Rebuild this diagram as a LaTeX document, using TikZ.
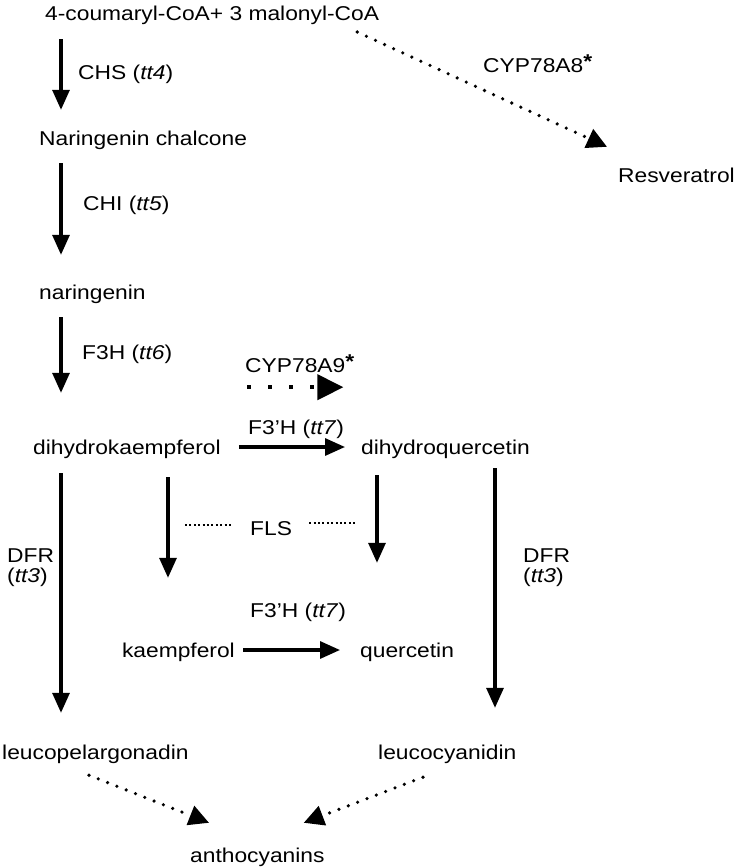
\documentclass[tikz,border=0pt]{standalone}
\usepackage{fontspec}
\setmainfont{Liberation Sans}[FakeStretch=1.14]
\usetikzlibrary{arrows.meta}
\begin{document}
\begin{tikzpicture}[x=1pt,y=-1pt,
  lbl/.style={inner sep=0pt, anchor=base west, text height=15pt, text depth=5pt, font=\fontsize{20}{20}\selectfont},
  arr/.style={line width=3.2pt, -{Triangle[width=17pt,length=20pt]}},
  dotarr/.style={line width=3.6pt, line cap=round, dash pattern=on 0pt off 10pt, -{Triangle[width=20pt,length=20pt]}},
  bigdot/.style={line width=4pt, dash pattern=on 4pt off 17pt, -{Triangle[width=25pt,length=26pt]}},
  fine/.style={line width=2.6pt, dash pattern=on 2pt off 2.4pt}]
\fill[white] (0,0) rectangle (737,868);
\useasboundingbox (0,0) rectangle (737,868);
% columns
\coordinate (cA) at (61,0);
\coordinate (cB) at (168,0);
\coordinate (cC) at (377,0);
\coordinate (cD) at (495,0);
% compounds
\node[lbl] (title) at (45,20) {4-coumaryl-CoA+ 3 malonyl-CoA};
\node[lbl] (nc) at (39,145) {Naringenin chalcone};
\node[lbl] (nar) at (39,299) {naringenin};
\node[lbl] (dhk) at (33,454) {dihydrokaempferol};
\node[lbl] (dhq) at (361,454) {dihydroquercetin};
\node[lbl,anchor=base east] (kae) at (235,657) {kaempferol};
\node[lbl] (que) at (360,657) {quercetin};
\node[lbl] (lpg) at (2,759) {leucopelargonadin};
\node[lbl] (lcy) at (378,759) {leucocyanidin};
\node[lbl] (ant) at (190,862) {anthocyanins};
\node[lbl] (res) at (618,182) {Resveratrol};
% enzyme labels
\node[lbl] (chs) at (78,79) {CHS (\textit{tt4})};
\node[lbl] (chi) at (83,210) {CHI (\textit{tt5})};
\node[lbl] (f3h) at (82,359) {F3H (\textit{tt6})};
\node[lbl] (cyp9) at (245,372) {CYP78A9\raisebox{4pt}{\textbf{*}}};
\node[lbl] (cyp8) at (483,72) {CYP78A8\raisebox{4pt}{\textbf{*}}};
\node[lbl] (fthA) at (248,434) {F3'H (\textit{tt7})};
\node[lbl] (fthB) at (250,617) {F3'H (\textit{tt7})};
\node[lbl] (fls) at (250,535) {FLS};
\node[lbl] (dfrLa) at (7,562) {DFR};
\node[lbl] (dfrLb) at (7,582) {(\textit{tt3})};
\node[lbl] (dfrRa) at (523,562) {DFR};
\node[lbl] (dfrRb) at (523,582) {(\textit{tt3})};
% vertical arrows
\draw[arr] ([yshift=-14pt]title.south -| cA) -- ([yshift=20pt]nc.north -| cA);
\draw[arr] ([yshift=-13pt]nc.south -| cA) -- ([yshift=29pt]nar.north -| cA);
\draw[arr] ([yshift=-13pt]nar.south -| cA) -- ([yshift=46pt]dhk.north -| cA);
\draw[arr] ([yshift=-14pt]dhk.south -| cA) -- ([yshift=31pt]lpg.north -| cA);
\draw[arr] ([yshift=-18pt]dhk.south -| cB) -- ([yshift=64pt]kae.north -| cB);
\draw[arr] ([yshift=-16pt]dhq.south -| cC) -- ([yshift=79pt]que.north -| cC);
\draw[arr] ([yshift=-9pt]dhq.south -| cD) -- ([yshift=36pt]lcy.north -| cD);
% horizontal arrows
\draw[arr] ([xshift=18pt,yshift=2pt]dhk.east) -- ([xshift=-16pt,yshift=2pt]dhq.west);
\draw[arr] ([xshift=8pt,yshift=2pt]kae.east) -- ([xshift=-20pt,yshift=2pt]que.west);
\draw[bigdot] ([xshift=2pt,yshift=-10pt]cyp9.south west) -- ([xshift=-11pt,yshift=-10pt]cyp9.south east);
% FLS dotted lines
\draw[fine] ([xshift=-65pt,yshift=5pt]fls.west) -- ([xshift=-17pt,yshift=5pt]fls.west);
\draw[fine] ([xshift=17pt,yshift=7pt]fls.east) -- ([xshift=63pt,yshift=7pt]fls.east);
% dotted diagonal arrows
\draw[dotarr] ([xshift=-22pt,yshift=-17pt]title.east) -- ([xshift=-11pt,yshift=20pt]res.north west);
\draw[dotarr] ([xshift=87pt,yshift=-11pt]lpg.south west) -- ([xshift=19pt,yshift=24pt]ant.north west);
\draw[dotarr] ([xshift=45pt,yshift=-13pt]lcy.south west) -- ([xshift=-21pt,yshift=24pt]ant.north east);
\end{tikzpicture}
\end{document}
